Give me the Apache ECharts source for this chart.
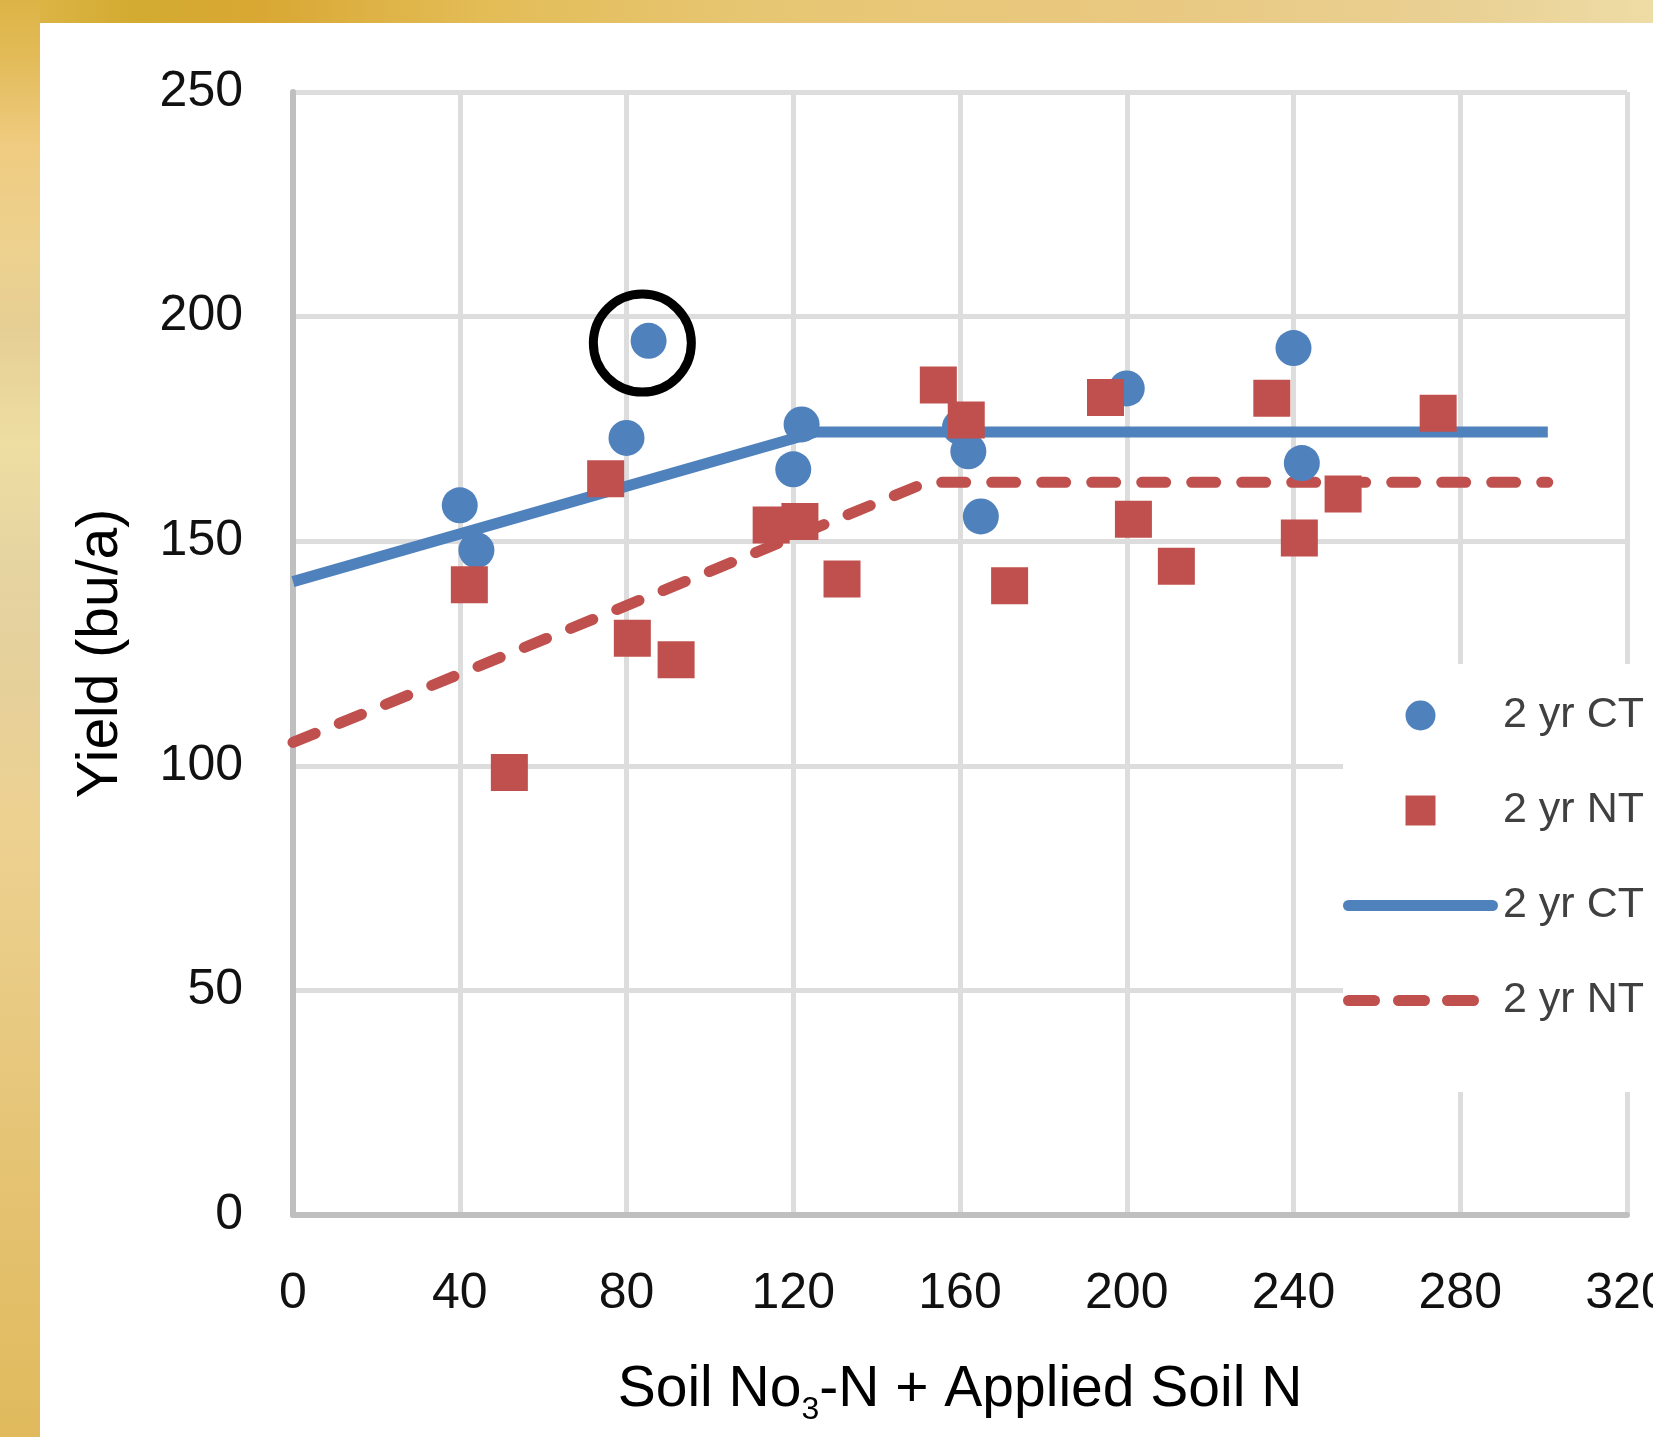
<!DOCTYPE html>
<html>
<head>
<meta charset="utf-8">
<title>Yield response to soil N</title>
<script src="https://cdn.jsdelivr.net/npm/echarts@6/dist/echarts.min.js"></script>
<style>
  html, body { margin: 0; padding: 0; background: #ffffff; }
  #chart { width: 1653px; height: 1437px; }
</style>
</head>
<body>
<div id="chart"></div>
<script>
// Soil NO3-N + applied N (x) and corn yield, bu/a (y)
const ctN     = [40, 44, 80, 85.3, 120, 122, 160, 162, 165, 200, 240, 242];
const ctYield = [158, 148, 173, 194.6, 166, 176, 175.4, 170, 155.5, 184, 193, 167.4];

const ntN     = [42.3, 51.9, 75, 81.4, 91.9, 114.7, 121.6, 131.7, 154.8, 161.5, 171.9, 194.9, 201.6, 211.9, 234.8, 241.4, 251.9, 274.7];
const ntYield = [140.3, 98.5, 163.9, 128.4, 123.6, 153.6, 154.4, 141.6, 184.8, 177, 140.1, 182, 154.9, 144.4, 181.8, 150.7, 160.5, 178.5];

// Linear-plateau fits: start, join point, end of plateau
const ctFitN     = [0, 125.5, 301];
const ctFitYield = [141, 174.3, 174.3];
const ntFitN     = [0, 152, 301];
const ntFitYield = [105.2, 163.1, 163.1];

// Highlight ring around the high CT point
const ringN = [83.8];
const ringYield = [194.1];

const xTicks = [0, 40, 80, 120, 160, 200, 240, 280, 320];
const yTicks = [0, 50, 100, 150, 200, 250];

const BLUE = '#4F81BD';
const RED = '#C0504D';
const FONT = "'Liberation Sans', Arial, sans-serif";

const pairs = (xs, ys) => xs.map((x, i) => [x, ys[i]]);

// Legend glyphs: a square marker, a solid rounded bar and three rounded dashes
const SQUARE_ICON = 'path://M0,0H10V10H0Z';
const SOLID_ICON = 'path://M5.5,0H149.5A5.5,5.5 0 0 1 149.5,11H5.5A5.5,5.5 0 0 1 5.5,0Z';
const DASH_ICON = 'path://M155,0' +
  'M5.5,0H31.5A5.5,5.5 0 0 1 31.5,11H5.5A5.5,5.5 0 0 1 5.5,0Z' +
  'M55.5,0H81.5A5.5,5.5 0 0 1 81.5,11H55.5A5.5,5.5 0 0 1 55.5,0Z' +
  'M104.5,0H130.5A5.5,5.5 0 0 1 130.5,11H104.5A5.5,5.5 0 0 1 104.5,0Z';

const chart = echarts.init(document.getElementById('chart'), null, { renderer: 'canvas' });

chart.setOption({
  animation: false,
  backgroundColor: '#ffffff',
  graphic: [
    {
      type: 'rect', z: -10, silent: true,
      shape: { x: 0, y: 0, width: 1653, height: 23 },
      style: {
        fill: new echarts.graphic.LinearGradient(0, 0, 1, 0, [
          { offset: 0, color: '#DFB84E' },
          { offset: 0.08, color: '#D3AB31' },
          { offset: 0.16, color: '#D9A834' },
          { offset: 0.29, color: '#E3BC56' },
          { offset: 0.45, color: '#E7C672' },
          { offset: 0.7, color: '#E9C981' },
          { offset: 0.88, color: '#E9D093' },
          { offset: 1, color: '#EEDCA6' }
        ])
      }
    },
    {
      type: 'rect', z: -10, silent: true,
      shape: { x: 0, y: 0, width: 40, height: 1437 },
      style: {
        fill: new echarts.graphic.LinearGradient(0, 0, 0, 1, [
          { offset: 0, color: '#DCB446' },
          { offset: 0.04, color: '#E2BB58' },
          { offset: 0.1, color: '#EFCB80' },
          { offset: 0.17, color: '#EDD18E' },
          { offset: 0.23, color: '#E6CF94' },
          { offset: 0.31, color: '#EEDEA2' },
          { offset: 0.4, color: '#E5D3A0' },
          { offset: 0.48, color: '#E6D09A' },
          { offset: 0.58, color: '#EDD190' },
          { offset: 0.7, color: '#E8CA82' },
          { offset: 0.83, color: '#E4C271' },
          { offset: 1, color: '#E0BA5C' }
        ])
      }
    }
  ],
  grid: {
    left: 293, right: 26, top: 92, bottom: 222,
    containLabel: false,
    outerBoundsMode: 'none'
  },
  xAxis: {
    type: 'value',
    min: xTicks[0], max: xTicks[xTicks.length - 1], interval: 40,
    name: '{m|Soil No}{s|3}{m|-N + Applied Soil N}',
    nameLocation: 'middle',
    nameGap: 139,
    nameTextStyle: {
      color: '#000',
      fontFamily: FONT,
      fontSize: 57,
      rich: {
        m: { fontSize: 57, lineHeight: 72, fontFamily: FONT, color: '#000', verticalAlign: 'middle' },
        s: { fontSize: 32, lineHeight: 72, fontFamily: FONT, color: '#000', verticalAlign: 'bottom' }
      }
    },
    axisLine: { show: true, onZero: false, lineStyle: { color: '#BFBFBF', width: 6 } },
    axisTick: { show: false },
    axisLabel: {
      margin: 54,
      color: '#111',
      fontFamily: FONT,
      fontSize: 50,
      showMinLabel: true,
      showMaxLabel: true,
      hideOverlap: false
    },
    splitLine: { show: true, lineStyle: { color: '#DDDDDD', width: 5 } }
  },
  yAxis: {
    type: 'value',
    min: yTicks[0], max: yTicks[yTicks.length - 1], interval: 50,
    name: 'Yield (bu/a)',
    nameLocation: 'middle',
    nameGap: 162,
    nameTextStyle: { color: '#000', fontFamily: FONT, fontSize: 57, lineHeight: 60 },
    axisLine: { show: true, onZero: false, lineStyle: { color: '#BFBFBF', width: 6 } },
    axisTick: { show: false },
    axisLabel: {
      margin: 50,
      color: '#111',
      fontFamily: FONT,
      fontSize: 50,
      showMinLabel: true,
      showMaxLabel: true
    },
    splitLine: { show: true, lineStyle: { color: '#DDDDDD', width: 5 } }
  },
  legend: {
    orient: 'vertical',
    left: 1343,
    top: 664,
    padding: [30, 20, 70, 0],
    backgroundColor: '#ffffff',
    itemWidth: 155,
    itemHeight: 30,
    itemGap: 52,
    align: 'left',
    symbolKeepAspect: true,
    formatter: (name) => name.replace(' plateau', ''),
    textStyle: { fontFamily: FONT, fontSize: 43, color: '#404040' },
    data: [
      { name: '2 yr CT', icon: 'circle', itemStyle: { borderWidth: 0 } },
      { name: '2 yr NT', icon: SQUARE_ICON, itemStyle: { borderWidth: 0 } },
      { name: '2 yr CT plateau', icon: SOLID_ICON, itemStyle: { color: BLUE, borderWidth: 0 } },
      { name: '2 yr NT plateau', icon: DASH_ICON, itemStyle: { color: RED, borderWidth: 0 } }
    ]
  },
  series: [
    {
      name: '2 yr CT plateau',
      type: 'line',
      z: 2,
      symbol: 'none',
      smooth: false,
      color: BLUE,
      lineStyle: { color: BLUE, width: 11, type: 'solid', cap: 'butt', opacity: 1 },
      data: pairs(ctFitN, ctFitYield)
    },
    {
      name: '2 yr NT plateau',
      type: 'line',
      z: 2,
      symbol: 'none',
      smooth: false,
      color: RED,
      lineStyle: { color: RED, width: 11, type: [24, 26], cap: 'round', opacity: 1 },
      data: pairs(ntFitN, ntFitYield)
    },
    {
      name: '2 yr CT',
      type: 'scatter',
      z: 3,
      symbol: 'circle',
      symbolSize: 36,
      itemStyle: { color: BLUE, opacity: 1 },
      data: pairs(ctN, ctYield)
    },
    {
      name: '2 yr NT',
      type: 'scatter',
      z: 4,
      symbol: 'rect',
      symbolSize: 37,
      itemStyle: { color: RED, opacity: 1 },
      data: pairs(ntN, ntYield)
    },
    {
      name: 'highlight',
      type: 'scatter',
      z: 5,
      silent: true,
      symbol: 'circle',
      symbolSize: 98,
      itemStyle: { color: 'rgba(0,0,0,0)', borderColor: '#000', borderWidth: 9, opacity: 1 },
      data: pairs(ringN, ringYield)
    }
  ]
});
</script>
</body>
</html>
